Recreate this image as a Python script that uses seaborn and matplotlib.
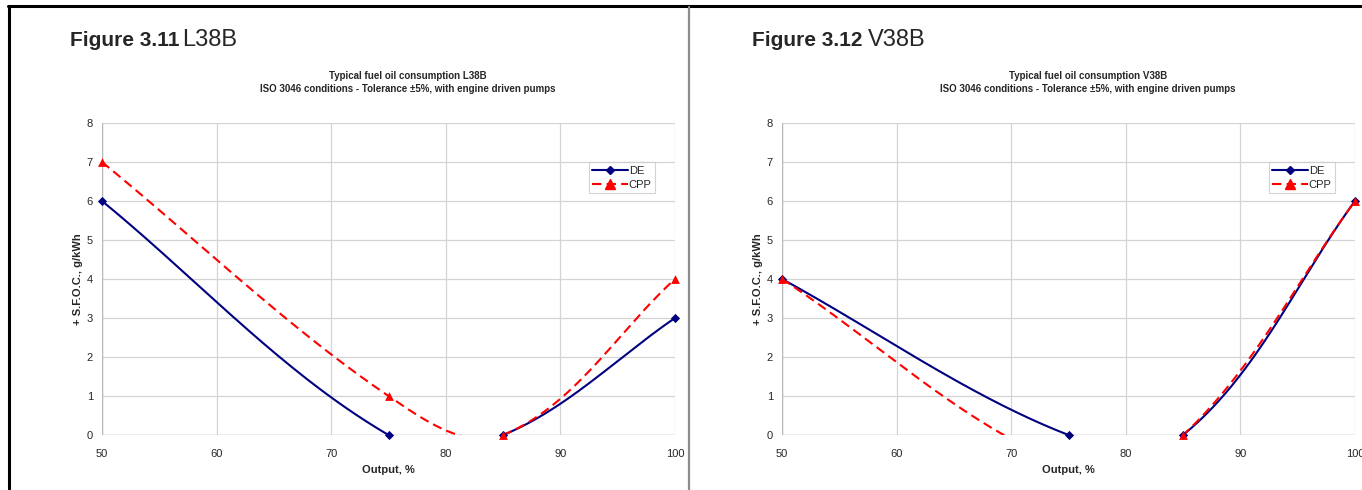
import numpy as np
import pandas as pd
import matplotlib
matplotlib.use("Agg")
import matplotlib.pyplot as plt
import seaborn as sns
from matplotlib.lines import Line2D

# data
output = [50, 75, 85, 100]
l38b_de = [6, 0, 0, 3]
l38b_cpp = [7, 1, 0, 4]
v38b_de = [4, 0, 0, 6]
v38b_cpp = [4, -0.8, 0, 6]

x_ticks = [50, 60, 70, 80, 90, 100]
y_ticks = [0, 1, 2, 3, 4, 5, 6, 7, 8]

DE_COLOR = "#000080"
CPP_COLOR = "#ff0000"
GRID = "#d4d4d4"


def smooth(xs, ys, sx=573 / 50, sy=312 / 8, n=60):
    # Excel "smoothed line": bezier with tangents along neighbour chord, sized by segment length
    p = np.column_stack([np.asarray(xs, float) * sx, np.asarray(ys, float) * sy])
    ext = np.vstack([p[0], p, p[-1]])
    t = np.linspace(0, 1, n)[:, None]
    out = []
    for i in range(len(p) - 1):
        p0, p1, p2, p3 = ext[i], ext[i + 1], ext[i + 2], ext[i + 3]
        L = np.linalg.norm(p2 - p1) / 3
        d1 = (p2 - p0) / np.linalg.norm(p2 - p0)
        d2 = (p3 - p1) / np.linalg.norm(p3 - p1)
        c1 = p1 + d1 * L
        c2 = p2 - d2 * L
        seg = ((1 - t) ** 3) * p1 + 3 * ((1 - t) ** 2) * t * c1 + 3 * (1 - t) * t ** 2 * c2 + t ** 3 * p2
        out.append(seg if i == 0 else seg[1:])
    out = np.vstack(out)
    return pd.DataFrame({"x": out[:, 0] / sx, "y": out[:, 1] / sy})


def draw_panel(ax, de, cpp):
    ax.set_xlim(50, 100)
    ax.set_ylim(0, 8)
    ax.set_xticks(x_ticks)
    ax.set_yticks(y_ticks)
    ax.grid(True, color=GRID, lw=0.9)
    for s in ax.spines.values():
        s.set_visible(False)
    ax.axhline(0, color="#b8b8b8", lw=1, zorder=1)
    ax.axvline(50, color="#b8b8b8", lw=1, zorder=1)
    ax.tick_params(axis="y", length=3, width=0.8, color="#b8b8b8", labelsize=8, pad=3.5)
    ax.tick_params(axis="x", length=0, labelsize=8, pad=10)

    d = smooth(output, de)
    c = smooth(output, cpp)
    sns.lineplot(data=d, x="x", y="y", sort=False, estimator=None, ax=ax, color=DE_COLOR, lw=1.5, zorder=3)
    sns.lineplot(data=c, x="x", y="y", sort=False, estimator=None, ax=ax, color=CPP_COLOR, lw=1.5,
                 zorder=4)
    ax.lines[-1].set_dashes([4.5, 2.5])
    dp = [(x, y) for x, y in zip(output, de) if y >= 0]
    cp = [(x, y) for x, y in zip(output, cpp) if y >= 0]
    sns.scatterplot(x=[a for a, _ in dp], y=[b for _, b in dp], ax=ax, marker="D", s=22,
                    color=DE_COLOR, edgecolor=DE_COLOR, linewidth=0, zorder=5, clip_on=False)
    sns.scatterplot(x=[a for a, _ in cp], y=[b for _, b in cp], ax=ax, marker="^", s=40,
                    color=CPP_COLOR, edgecolor=CPP_COLOR, linewidth=0, zorder=6, clip_on=False)
    ax.set_xlabel("")
    ax.set_ylabel("")

    handles = [
        Line2D([], [], color=DE_COLOR, lw=1.5, marker="D", markersize=4.5),
        Line2D([], [], color=CPP_COLOR, lw=1.5, ls=(0, (4.5, 2.5)), marker="^", markersize=6.5),
    ]
    leg = ax.legend(handles, ["DE", "CPP"], loc="upper right", bbox_to_anchor=(0.965, 0.874),
                    fontsize=8, frameon=True, fancybox=False, edgecolor="#c8c8c8",
                    handlelength=3.2, handletextpad=0.1, borderpad=0.3, labelspacing=0.35,
                    borderaxespad=0)
    leg.get_frame().set_linewidth(0.8)


sns.set_style("white")
plt.rcParams["font.family"] = ["Liberation Sans", "DejaVu Sans"]

W, H = 1362, 490
fig = plt.figure(figsize=(W / 100, H / 100), dpi=100)

panels = [
    (102, 70, 182, "3.11", "L38B", l38b_de, l38b_cpp),
    (782, 752, 868, "3.12", "V38B", v38b_de, v38b_cpp),
]
for left, fx, nx, num, name, de, cpp in panels:
    ax = fig.add_axes([left / W, (H - 435) / H, 573 / W, 312 / H])
    draw_panel(ax, de, cpp)
    cx = (left + 286) / W
    fig.text(fx / W, 1 - 40 / H, f"Figure {num}", fontsize=15, fontweight="bold", va="center")
    fig.text(nx / W, 1 - 40 / H, name, fontsize=17, va="center")
    fig.text((left + 306) / W, 1 - 76 / H, f"Typical fuel oil consumption {name}", fontsize=7,
             fontweight="bold", ha="center", va="center")
    fig.text((left + 306) / W, 1 - 89 / H, "ISO 3046 conditions - Tolerance \u00b15%, with engine driven pumps",
             fontsize=7, fontweight="bold", ha="center", va="center")
    fig.text(cx, 1 - 470 / H, "Output, %", fontsize=8, fontweight="bold", ha="center", va="center")
    fig.text((left - 24) / W, 1 - 279 / H, "+ S.F.O.C., g/kWh", fontsize=8, fontweight="bold",
             ha="center", va="center", rotation=90)

# page frame lines
fig.add_artist(Line2D([8 / W, 1], [1 - 6 / H, 1 - 6 / H], color="black", lw=2.2))
fig.add_artist(Line2D([9 / W, 9 / W], [0, 1 - 6 / H], color="black", lw=2.2))
fig.add_artist(Line2D([689 / W, 689 / W], [0, 1 - 7 / H], color="#8c8c8c", lw=1.6))

fig.savefig("out.png", dpi=100)
